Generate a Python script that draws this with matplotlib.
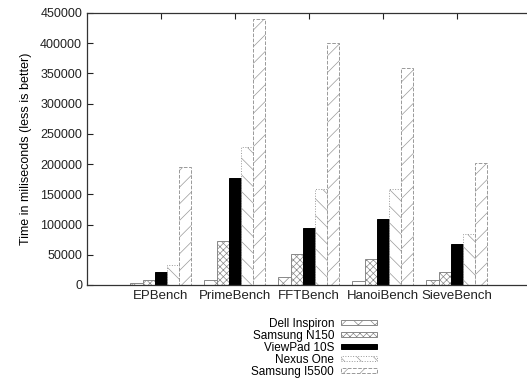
import numpy as np
import matplotlib.pyplot as plt
from matplotlib.patches import Patch

plt.rcParams['font.family'] = ['Liberation Sans', 'DejaVu Sans']
plt.rcParams['hatch.linewidth'] = 0.5

# ---------------------------------------------------------------------------
# DATA (time in milliseconds, less is better)
# ---------------------------------------------------------------------------
benchmarks = ["EPBench", "PrimeBench", "FFTBench", "HanoiBench", "SieveBench"]
devices = ["Dell Inspiron", "Samsung N150", "ViewPad 10S", "Nexus One", "Samsung I5500"]

dell_inspiron = [3000, 9000, 12500, 7000, 9000]
samsung_n150 = [9000, 73000, 52000, 42500, 21000]
viewpad_10s = [21000, 177000, 94000, 108500, 68000]
nexus_one = [32500, 228000, 158000, 158000, 84500]
samsung_i5500 = [196000, 440000, 400000, 359500, 201000]

series = [dell_inspiron, samsung_n150, viewpad_10s, nexus_one, samsung_i5500]

# styles: (facecolor, hatch, edgecolor, linestyle)
styles = [
    ("white", "xx", "#888888", "-"),
    ("white", "xxxxx", "#888888", "-"),
    ("black", "", "black", "-"),
    ("white", "\\\\", "#999999", ":"),
    ("white", "//", "#999999", "--"),
]

# ---------------------------------------------------------------------------
# PLOT
# ---------------------------------------------------------------------------
fig = plt.figure(figsize=(5.27, 3.81), dpi=100)
ax = fig.add_axes([0.165, 0.252, 0.8425, 0.714])

x = np.arange(1, len(benchmarks) + 1)
width = 0.165
handles = []
for i, (vals, (fc, hatch, ec, ls)) in enumerate(zip(series, styles)):
    ax.bar(x + (i - 2) * width, vals, width, color=fc, hatch=hatch,
           edgecolor=ec, linestyle=ls, linewidth=0.7, zorder=2)
    handles.append(Patch(facecolor=fc, hatch=hatch, edgecolor=ec,
                         linestyle=ls, linewidth=0.7, label=devices[i]))

ax.set_xlim(0, 6)
ax.set_ylim(0, 450000)
ax.set_yticks(np.arange(0, 450001, 50000))
ax.set_xticks(x)
ax.set_xticklabels(benchmarks)
ax.tick_params(direction="in", top=True, right=False, labelsize=9, length=4,
               width=0.8, colors="#222222")
ax.tick_params(axis="x", bottom=False, labelsize=9.5)
for s in ax.spines.values():
    s.set_linewidth(0.9)
    s.set_color("#333333")

ax.set_ylabel("Time in miliseconds (less is better)", fontsize=9, labelpad=6)

fig.legend(handles=handles, loc="upper right", bbox_to_anchor=(0.727, 0.181),
           frameon=False, markerfirst=False, fontsize=8.5, handlelength=3.1,
           handleheight=0.35, labelspacing=-0.005, handletextpad=0.55,
           borderpad=0)

plt.savefig("out.png", dpi=100)
